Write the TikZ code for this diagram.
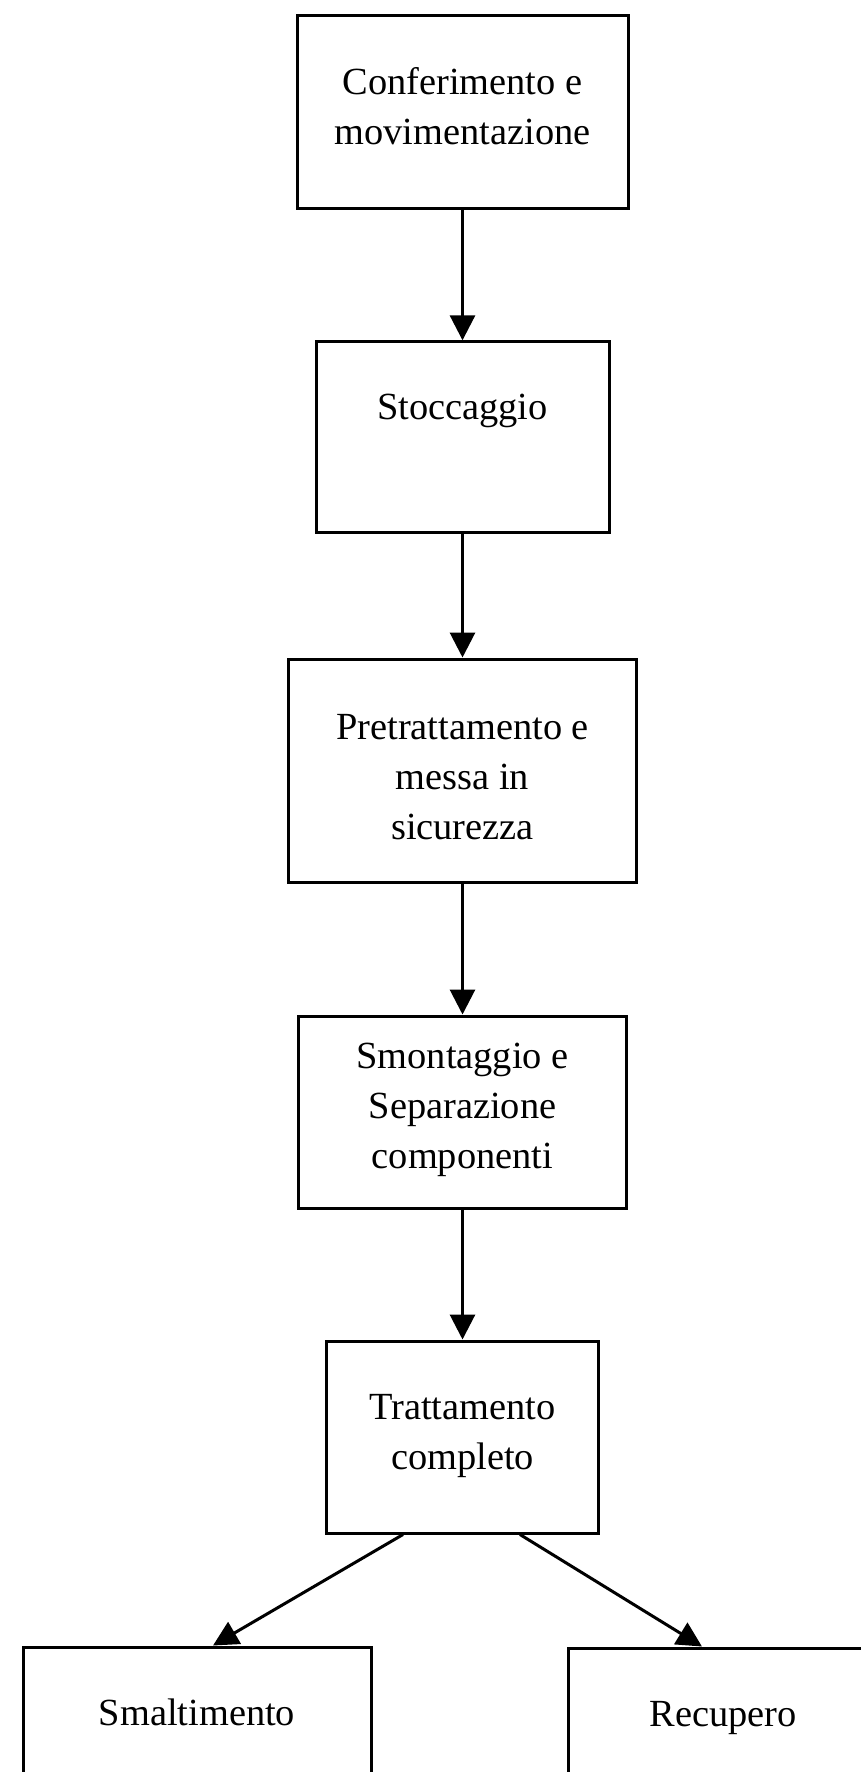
\documentclass[tikz,border=0pt]{standalone}
\usepackage{fontspec}
\setmainfont{Liberation Serif}
\usetikzlibrary{arrows.meta}
\begin{document}
\begin{tikzpicture}[x=1pt,y=-1pt,
  box/.style={draw=black, line width=3pt, rectangle, inner sep=0pt, fill=white},
  txt/.style={align=center, inner sep=0pt, font=\fontsize{38.4}{50}\selectfont},
  arr/.style={draw=black, line width=3pt, -{Triangle[width=25pt,length=25pt]}}]
\useasboundingbox (0,0) rectangle (861,1772);
\clip (0,0) rectangle (861,1772);
\fill[white] (0,0) rectangle (861,1772);
% boxes
\node[box, minimum width=331pt, minimum height=193pt] (b1) at (462.5,111.5) {};
\node[box, minimum width=293pt, minimum height=191pt] (b2) at (462.5,437.3) {};
\node[box, minimum width=348pt, minimum height=223pt] (b3) at (462.5,770.5) {};
\node[box, minimum width=328pt, minimum height=192pt] (b4) at (462.5,1112) {};
\node[box, minimum width=272pt, minimum height=192pt] (b5) at (462.5,1437) {};
\node[box, minimum width=348pt, minimum height=192pt] (b6) at (197,1743) {};
\node[box, minimum width=310pt, minimum height=192pt] (b7) at (723,1744) {};
% texts
\node[txt] (t1) at (462.5,106.5) {Conferimento e\\movimentazione};
\node[txt] (t2) at (462.5,410.5) {Stoccaggio};
\node[txt] (t3) at (462.5,777) {Pretrattamento e\\messa in\\sicurezza};
\node[txt] (t4) at (462.5,1110) {Smontaggio e\\Separazione\\componenti};
\node[txt] (t5) at (462.5,1436) {Trattamento\\completo};
\node[txt] (t6) at (197,1712.5) {Smaltimento};
\node[txt] (t7) at (723,1718) {Recupero};
% connectors
\draw[arr] (b1.south) -- (b2.north);
\draw[arr] (b2.south) -- (b3.north);
\draw[arr] (b3.south) -- (b4.north);
\draw[arr] (b4.south) -- (b5.north);
\draw[arr] ([xshift=-59.5pt]b5.south) -- ([xshift=16pt]b6.north);
\draw[arr] ([xshift=57.5pt]b5.south) -- ([xshift=-21pt]b7.north);
\end{tikzpicture}
\end{document}
